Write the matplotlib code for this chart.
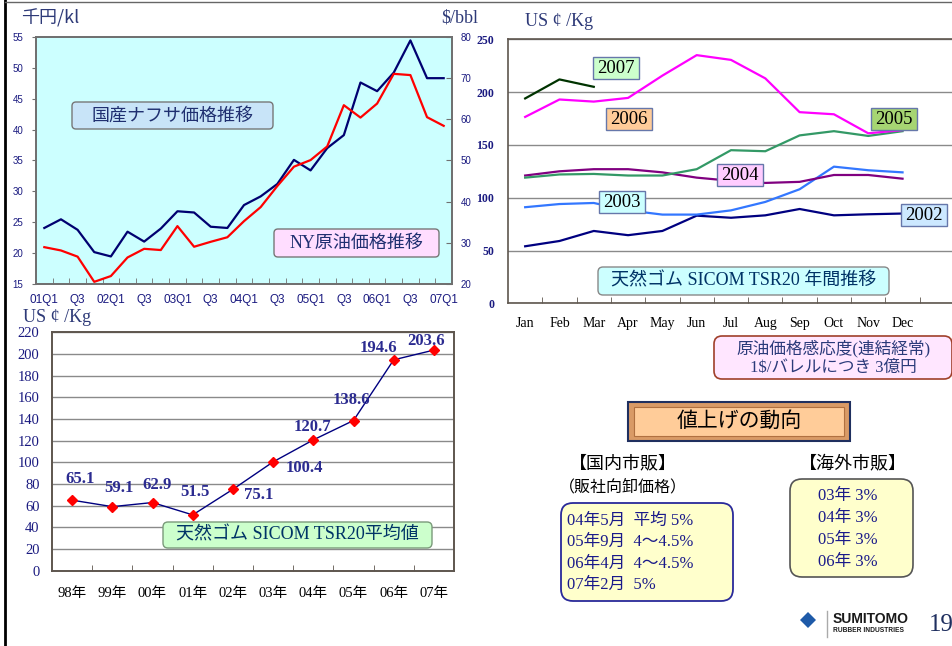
import numpy as np
import matplotlib
matplotlib.use('Agg')
import matplotlib.pyplot as plt
from matplotlib.patches import FancyBboxPatch, Polygon
from matplotlib.lines import Line2D
from matplotlib.transforms import IdentityTransform

# ---- data ----
quarters = ['01Q1', '01Q2', '01Q3', '01Q4', '02Q1', '02Q2', '02Q3', '02Q4',
            '03Q1', '03Q2', '03Q3', '03Q4', '04Q1', '04Q2', '04Q3', '04Q4',
            '05Q1', '05Q2', '05Q3', '05Q4', '06Q1', '06Q2', '06Q3', '06Q4', '07Q1']
quarter_ticks = ['01Q1', 'Q3', '02Q1', 'Q3', '03Q1', 'Q3', '04Q1', 'Q3',
                 '05Q1', 'Q3', '06Q1', 'Q3', '07Q1']
naphtha = [24.1, 25.5, 23.8, 20.2, 19.5, 23.5, 21.9, 24.0, 26.8, 26.6, 24.3, 24.1,
           27.8, 29.2, 31.2, 35.1, 33.4, 37.0, 39.1, 47.6, 46.2, 49.2, 54.4, 48.3, 48.3]
crude = [29.0, 28.2, 26.7, 20.6, 22.0, 26.5, 28.6, 28.3, 34.1, 29.1, 30.3, 31.4,
         35.3, 38.7, 43.8, 48.5, 50.1, 53.4, 63.4, 60.4, 63.8, 71.0, 70.7, 60.5, 58.4]

months = ['Jan', 'Feb', 'Mar', 'Apr', 'May', 'Jun', 'Jul', 'Aug', 'Sep', 'Oct', 'Nov', 'Dec']
rubber_2002 = [54, 59, 68.5, 64.5, 68.5, 83, 81, 83.3, 89.3, 83.3, 84.3, 85]
rubber_2003 = [91, 94, 95, 88, 84, 84, 88, 96, 108, 129.4, 126, 124]
rubber_2004 = [121, 125, 127, 127, 124, 119, 116, 114, 115, 121.5, 121.5, 118]
rubber_2005 = [119, 122, 122.5, 121, 121, 127, 145, 144, 159, 163, 158.5, 163]
rubber_2006 = [176.5, 193, 191, 194.5, 215.6, 235, 230.5, 213, 181, 179, 161, 164]
rubber_2007 = [194, 212, 205]

years = ['98年', '99年', '00年', '01年', '02年', '03年', '04年', '05年', '06年', '07年']
avg_price = [65.1, 59.1, 62.9, 51.5, 75.1, 100.4, 120.7, 138.6, 194.6, 203.6]

domestic = ['04年5月  平均 5%', '05年9月  4～4.5%', '06年4月  4～4.5%', '07年2月  5%']
overseas = ['03年 3%', '04年 3%', '05年 3%', '06年 3%']

W, H = 953, 646
SERIF = ['Liberation Serif', 'Noto Sans CJK JP']
SANS = ['Liberation Sans', 'Noto Sans CJK JP']
JP = ['Noto Sans CJK JP', 'DejaVu Sans']
NAVY = '#1A1A80'
FRAME = '#5E564E'

fig = plt.figure(figsize=(W / 100, H / 100), dpi=100)
fig.patch.set_facecolor('white')


def ax_px(x0, y0, x1, y1):
    return fig.add_axes([x0 / W, 1 - y1 / H, (x1 - x0) / W, (y1 - y0) / H])


def box(x0, y0, x1, y1, fc, ec, lw=1.0, rad=0, z=2):
    style = 'round,pad=0,rounding_size=%d' % rad if rad else 'square,pad=0'
    p = FancyBboxPatch((x0, H - y1), x1 - x0, y1 - y0, boxstyle=style, fc=fc, ec=ec,
                       lw=lw, transform=IdentityTransform(), zorder=z)
    fig.add_artist(p)


def txt(x, y, s, size, color='k', family=SERIF, ha='center', weight='normal'):
    fig.text(x / W, 1 - y / H, s, fontsize=size, color=color, family=family,
             ha=ha, va='center', weight=weight, zorder=4)


# ---- chart 1: naphtha vs crude ----
ax1 = ax_px(36, 36.7, 452, 284.3)
ax1.set_facecolor('#CCFFFF')
x1 = np.arange(len(quarters))
ax1.plot(x1, naphtha, color='#000070', lw=1.6, zorder=3)
ax1.set_xlim(-0.5, len(quarters) - 0.5)
ax1.set_ylim(15, 55)
ax1.set_yticks(np.arange(15, 56, 5))
ax1.set_xticks(x1[::2])
ax1.set_xticklabels(quarter_ticks, family=SANS, fontsize=8.5, color=NAVY)
ax1.set_xticks(x1[:-1] + 0.5, minor=True)
ax1.tick_params(axis='x', which='major', length=0, pad=7)
ax1.tick_params(axis='x', which='minor', length=4, direction='in', color='#707070')
ax1.tick_params(axis='y', length=3, direction='out', color='#707070', pad=6,
                labelsize=7, labelcolor=NAVY)
for lb in ax1.get_yticklabels():
    lb.set_family(SANS)
ax1b = ax1.twinx()
ax1b.plot(x1, crude, color='#FF0000', lw=1.6, zorder=3)
ax1b.set_ylim(20, 80)
ax1b.set_yticks(np.arange(20, 81, 10))
ax1b.tick_params(axis='y', length=4, direction='in', color='#707070', pad=6,
                 labelsize=7, labelcolor=NAVY)
for lb in ax1b.get_yticklabels():
    lb.set_family(SANS)
for a in (ax1, ax1b):
    for sp in a.spines.values():
        sp.set_color('#707070')
        sp.set_linewidth(1.3)
txt(50, 18, '千円/kl', 13, color='#2E3A78', family=JP)
txt(460, 18, '$/bbl', 13, color='#2E3A78')
box(72, 102, 273, 129, '#C8E4F8', '#777777', lw=1, rad=4)
txt(172.5, 115.5, '国産ナフサ価格推移', 13, color='#1F2F70', family=JP)
box(274, 229, 439, 257, '#FFDDFF', '#777777', lw=1, rad=4)
txt(356.5, 243, 'NY原油価格推移', 13, color='#1F2F70')

# ---- chart 2: SICOM TSR20 monthly by year ----
ax2 = ax_px(508, 39.3, 954, 303.3)
xm = np.arange(len(months))
ax2.plot(xm, rubber_2002, color='#000080', lw=1.6)
ax2.plot(xm, rubber_2003, color='#3377FF', lw=1.6)
ax2.plot(xm, rubber_2004, color='#800080', lw=1.6)
ax2.plot(xm, rubber_2005, color='#339966', lw=1.6)
ax2.plot(xm, rubber_2006, color='#FF00FF', lw=1.6)
ax2.plot(xm[:len(rubber_2007)], rubber_2007, color='#003300', lw=1.6)
ax2.set_xlim(-0.5, 12.5)
ax2.set_ylim(0, 250)
ax2.set_yticks(np.arange(0, 251, 50))
ax2.set_yticklabels([str(v) for v in range(0, 251, 50)], family=SERIF, weight='bold',
                    fontsize=8.5, color=NAVY)
ax2.grid(axis='y', color='#8A8A8A', lw=1)
ax2.set_axisbelow(True)
ax2.set_xticks(xm)
ax2.set_xticklabels(months, family=SERIF, fontsize=10, color='k')
ax2.set_xticks(xm + 0.5, minor=True)
ax2.tick_params(axis='x', which='major', length=0, pad=10)
ax2.tick_params(axis='x', which='minor', length=4, direction='in', color=FRAME)
ax2.tick_params(axis='y', length=0, pad=10)
for sp in ax2.spines.values():
    sp.set_color(FRAME)
    sp.set_linewidth(1.2)
txt(559, 21, 'US ¢ /Kg', 13, color='#2E3A78')
year_boxes = [('2007', 593, 57, '#CCFFCC'), ('2006', 606, 108, '#FFCC99'),
              ('2005', 871, 108, '#A6D572'), ('2004', 717, 164, '#FFCCFF'),
              ('2003', 599, 191, '#CCFFFF'), ('2002', 901, 204, '#CCE8FF')]
for s, bx, by, fc in year_boxes:
    box(bx, by, bx + 46, by + 22, fc, '#6677AA', lw=1)
    txt(bx + 23, by + 11.5, s, 13.5, color='k')
box(598, 267, 889, 295, '#CCFFFF', '#888888', lw=1, rad=5)
txt(743.5, 281, '天然ゴム SICOM TSR20 年間推移', 13, color='#003366')

# ---- chart 3: yearly average ----
ax3 = ax_px(52, 332.3, 454, 570.7)
xy = np.arange(len(years))
ax3.plot(xy, avg_price, color='#000080', lw=1, marker='D', ms=5.5,
         mfc='#FF0000', mec='#FF0000', zorder=3)
ax3.set_xlim(-0.5, len(years) - 0.5)
ax3.set_ylim(0, 220)
ax3.set_yticks(np.arange(0, 221, 20))
ax3.set_yticklabels([str(v) for v in range(0, 221, 20)], family=SERIF,
                    fontsize=10.5, color=NAVY)
ax3.grid(axis='y', color='#8A8A8A', lw=1)
ax3.set_axisbelow(True)
ax3.set_xticks(xy)
ax3.set_xticklabels(years, family=SERIF, fontsize=10.5, color='k')
ax3.set_xticks(xy[:-1] + 0.5, minor=True)
ax3.tick_params(axis='x', which='major', length=0, pad=12)
ax3.tick_params(axis='x', which='minor', length=4, direction='in', color=FRAME)
ax3.tick_params(axis='y', length=0, pad=9)
for sp in ax3.spines.values():
    sp.set_color(FRAME)
    sp.set_linewidth(1.4)
offsets = [(8, 21), (7, 19), (5, 18), (2, 23), (26, -6), (31, -6),
           (-1, 13), (-2, 21), (-15, 12), (-8, 9)]
for xi, v, (dx, dy) in zip(xy, avg_price, offsets):
    ax3.annotate('%.1f' % v, (xi, v), xytext=(dx, dy), textcoords='offset pixels',
                 ha='center', va='center', family=SERIF, weight='bold',
                 fontsize=12, color='#2B2B90', zorder=4)
txt(57, 318, 'US ¢ /Kg', 13, color='#2E3A78')
box(163, 522, 432, 548, '#CCFFCC', '#7A9A7A', lw=1, rad=5)
txt(297.5, 535, '天然ゴム SICOM TSR20平均値', 13, color='#003366')

# ---- right side notes ----
box(714, 336, 952, 379, '#FFE6FF', '#A0402A', lw=1.2, rad=8)
txt(833, 349, '原油価格感応度(連結経常)', 12, color='#2B3A7A')
txt(833, 368, '1$/バレルにつき 3億円', 12, color='#2B3A7A')

box(628, 402, 850, 441, '#D99A66', '#1F2F5F', lw=1.5)
box(634, 407, 844, 436, '#FFCC99', '#B07040', lw=0.8)
txt(739, 421, '値上げの動向', 15, color='k', family=JP)

txt(623, 463, '【国内市販】', 13, color='k', family=JP)
txt(623, 487, '（販社向卸価格）', 11.5, color='k', family=JP)
box(561, 503, 733, 601, '#FFFFCC', '#2A2A9A', lw=1.3, rad=12)
for i, s in enumerate(domestic):
    txt(567, 521 + i * 21.3, s, 12, color='#1A1A8A', ha='left')

txt(853, 463, '【海外市販】', 13, color='k', family=JP)
box(790, 479, 913, 577, '#FFFFCC', '#555555', lw=1.2, rad=12)
for i, s in enumerate(overseas):
    txt(818, 496 + i * 22, s, 12, color='#1A1A8A', ha='left')

# ---- logo and page number ----
fig.add_artist(Polygon([(808, H - 612), (816, H - 620), (808, H - 628), (800, H - 620)],
                       closed=True, fc='#1E5AA8', ec='none',
                       transform=IdentityTransform(), zorder=3))
fig.add_artist(Line2D([827, 827], [H - 611, H - 637], color='#AAAAAA', lw=1,
                      transform=IdentityTransform(), zorder=3))
txt(833, 619, 'SUMITOMO', 10, color='#1A1A1A', family=SANS, ha='left', weight='bold')
txt(833, 631, 'RUBBER INDUSTRIES', 4.8, color='#1A1A1A', family=SANS, ha='left',
    weight='bold')
txt(941, 625, '19', 18, color='#1F2F5F')

# ---- slide border lines ----
fig.add_artist(Line2D([5, 5], [0, H], color='k', lw=2,
                      transform=IdentityTransform(), zorder=5))
fig.add_artist(Line2D([5, W], [H - 1.5, H - 1.5], color='#666666', lw=1,
                      transform=IdentityTransform(), zorder=5))

fig.savefig('out.png', dpi=100)
